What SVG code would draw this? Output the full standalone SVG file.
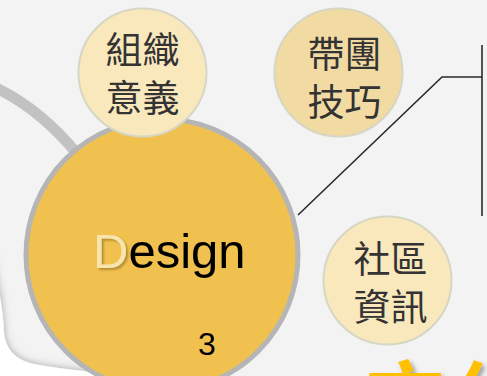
<svg xmlns="http://www.w3.org/2000/svg" width="487" height="376" viewBox="0 0 487 376">
<style>
.cjk{font-family:"Noto Sans CJK TC","Noto Sans CJK SC",sans-serif;font-size:37px;fill:#333;text-anchor:middle}
.small{stroke:#d6d6c4;stroke-width:2}
.conn{fill:none;stroke:#2a2a2a;stroke-width:1.6}
</style>
<defs>
<filter id="pshadow" x="-50%" y="-50%" width="200%" height="200%"><feDropShadow dx="1" dy="-1" stdDeviation="3.5" flood-color="#777" flood-opacity="0.5"/></filter>
<filter id="sh" x="-20%" y="-20%" width="140%" height="140%"><feDropShadow dx="2" dy="2" stdDeviation="1.2" flood-color="#8a6a20" flood-opacity="0.6"/></filter>
<filter id="sh2" x="-20%" y="-20%" width="140%" height="140%"><feDropShadow dx="3" dy="3" stdDeviation="2" flood-color="#555" flood-opacity="0.5"/></filter>
</defs>
<rect width="487" height="376" fill="#f3f3f3"/>
<g id="swoosh">
<path d="M-12,240 Q 3,300 4,332 Q 6,356 30,363 Q 60,370 150,377 L150,395 L-20,395 Z" fill="#ffffff" filter="url(#pshadow)"/>
</g>
<path d="M-8,86 Q 40,108 78,155" fill="none" stroke="#c2c2c2" stroke-width="11"/>
<g id="connectors">
<path class="conn" d="M298,215 L442,77 L482,77"/>
<path class="conn" d="M482,45 L482,216" stroke-width="2"/>
</g>
<g id="design">
<circle cx="162" cy="255" r="136" fill="#f0c14f" stroke="#b5b5b5" stroke-width="5"/>
<text x="93" y="268" font-family="Liberation Sans, Arial, sans-serif" font-size="49"><tspan fill="#f8e4ad" filter="url(#sh)">D</tspan><tspan fill="#000">esign</tspan></text>
<text x="198" y="355" font-family="Liberation Sans, Arial, sans-serif" font-size="32" fill="#000">3</text>
</g>
<g id="zuzhi">
<circle class="small" cx="142.5" cy="72.5" r="64" fill="#fae8bd"/>
<text class="cjk"><tspan x="142.5" y="64">組織</tspan><tspan x="142.5" y="112">意義</tspan></text>
</g>
<g id="daituan">
<circle class="small" cx="338.5" cy="72.5" r="64" fill="#f2dba2"/>
<text class="cjk"><tspan x="344.5" y="68">帶團</tspan><tspan x="344.5" y="116">技巧</tspan></text>
</g>
<g id="shequ">
<circle class="small" cx="387.5" cy="280.5" r="64" fill="#fae8bd"/>
<text class="cjk"><tspan x="390.5" y="273">社區</tspan><tspan x="390.5" y="321">資訊</tspan></text>
</g>
<text x="366" y="427" font-family="Noto Sans CJK TC, sans-serif" font-weight="bold" font-size="78" letter-spacing="8" fill="#ffc000" filter="url(#sh2)">文化</text>
</svg>
